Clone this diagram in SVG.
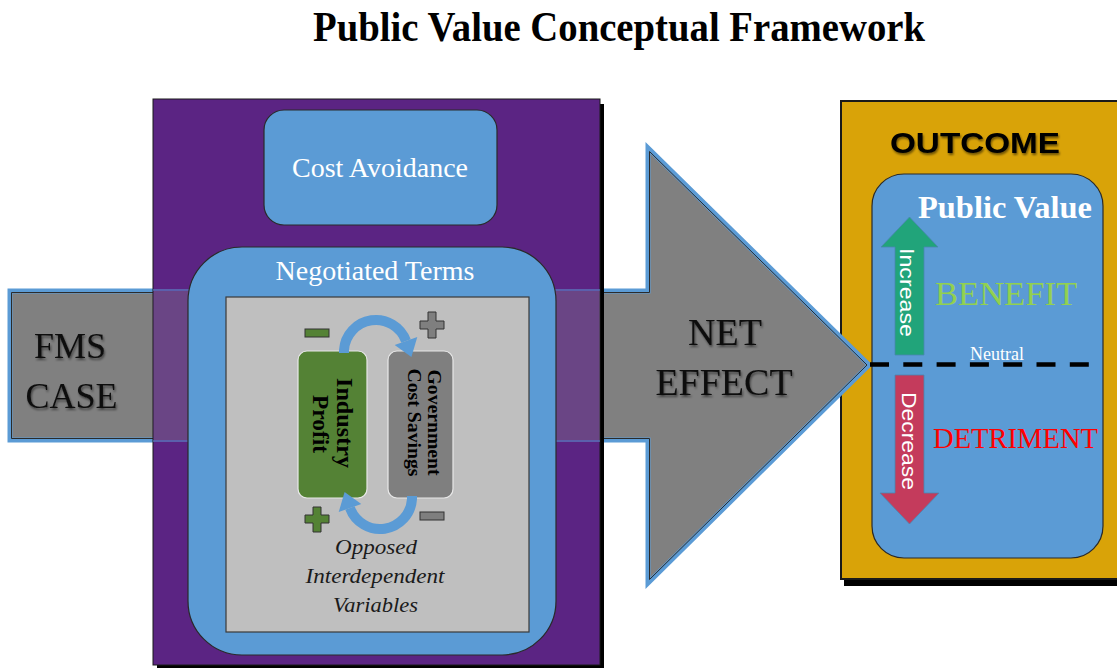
<svg xmlns="http://www.w3.org/2000/svg" width="1117" height="669" viewBox="0 0 1117 669">
<defs>
<style>
.serif{font-family:"Liberation Serif","Times New Roman",serif}
.sans{font-family:"Liberation Sans",Arial,sans-serif}
.blue{fill:#5b9bd5;stroke:#2a2a2a;stroke-width:1.2}
.wt{fill:#ffffff}
.sign-g{fill:#548235;stroke:#333;stroke-width:1}
.sign-k{fill:#7f7f7f;stroke:#333;stroke-width:1}
.arc{fill:none;stroke:#5b9bd5;stroke-width:10}
</style>
<filter id="ts" x="-10%" y="-20%" width="120%" height="140%">
<feGaussianBlur in="SourceAlpha" stdDeviation="1.2"/>
<feOffset dx="1" dy="1.5" result="b"/>
<feComponentTransfer><feFuncA type="linear" slope="0.5"/></feComponentTransfer>
<feMerge><feMergeNode/><feMergeNode in="SourceGraphic"/></feMerge>
</filter>
<g id="curl">
<path class="arc" d="M 344 353 L 344 350 A 32 32 0 0 1 406 341"/>
<polygon points="417.3,336.9 394.7,345.1 411.4,357" fill="#5b9bd5"/>
</g>
</defs>
<rect width="1117" height="669" fill="#ffffff"/>

<g id="title">
<text class="serif" x="619" y="41" font-size="42" font-weight="bold" text-anchor="middle" textLength="612" lengthAdjust="spacingAndGlyphs" fill="#000">Public Value Conceptual Framework</text>
</g>

<g id="outcome">
<rect x="844" y="106" width="280" height="480" fill="#000"/>
<rect x="841" y="101" width="280" height="478" fill="#d9a308" stroke="#1a1a1a" stroke-width="2"/>
<text class="sans" x="975" y="153" font-size="30" font-weight="bold" text-anchor="middle" textLength="170" lengthAdjust="spacingAndGlyphs" fill="#000" filter="url(#ts)">OUTCOME</text>
</g>

<g id="connectors">
<g id="net-effect-arrow">
<path d="M 10 291 L 648 291 L 648 148 L 869 365 L 648 583 L 648 440 L 10 440 Z" fill="#808080" stroke="#5b9bd5" stroke-width="5" stroke-linejoin="miter"/>
<path d="M 11.5 292.5 L 649.5 292.5 L 649.5 151.5 L 867 365 L 649.5 579.5 L 649.5 438.5 L 11.5 438.5 Z" fill="none" stroke="#2b2b2b" stroke-width="1"/>
</g>
</g>

<g id="purple-box">
<rect x="157" y="104" width="447" height="564" fill="#000"/>
<rect x="153" y="99" width="447" height="566" fill="#5b2483" stroke="#1a1a1a" stroke-width="1"/>
<rect x="153.5" y="291" width="446.5" height="149" fill="#8a8a8a" opacity="0.33"/>
<line x1="153" y1="290" x2="600" y2="290" stroke="#5b9bd5" stroke-width="2" opacity="0.5"/>
<line x1="153" y1="441" x2="600" y2="441" stroke="#5b9bd5" stroke-width="2" opacity="0.5"/>
</g>

<g id="cost-avoidance">
<rect class="blue" x="264" y="110" width="233" height="115" rx="20"/>
<text class="serif wt" x="380" y="177" font-size="28" text-anchor="middle">Cost Avoidance</text>
</g>

<g id="negotiated-terms">
<rect class="blue" x="188" y="247" width="368" height="408" rx="54"/>
<text class="serif wt" x="375" y="280" font-size="28" text-anchor="middle">Negotiated Terms</text>
<rect x="226" y="297" width="303" height="335" fill="#bfbfbf" stroke="#3a3a3a" stroke-width="1.2"/>
</g>

<g id="industry-profit">
<rect x="298" y="351" width="69" height="147" rx="9" fill="#548235" stroke="#e8e8e8" stroke-width="1.2"/>
<text class="serif" transform="translate(337,423) rotate(90)" font-size="23" font-weight="bold" text-anchor="middle" fill="#000" textLength="90" lengthAdjust="spacingAndGlyphs">Industry</text>
<text class="serif" transform="translate(313,424) rotate(90)" font-size="23" font-weight="bold" text-anchor="middle" fill="#000" textLength="58" lengthAdjust="spacingAndGlyphs">Profit</text>
</g>

<g id="government-cost-savings">
<rect x="388" y="351" width="65" height="147" rx="9" fill="#7f7f7f" stroke="#e8e8e8" stroke-width="1.2"/>
<text class="serif" transform="translate(428,422.5) rotate(90)" font-size="19" font-weight="bold" text-anchor="middle" fill="#000" textLength="106" lengthAdjust="spacingAndGlyphs">Government</text>
<text class="serif" transform="translate(408,422.5) rotate(90)" font-size="19" font-weight="bold" text-anchor="middle" fill="#000" textLength="108" lengthAdjust="spacingAndGlyphs">Cost Savings</text>
</g>

<g id="feedback-arrows">
<use href="#curl"/>
<use href="#curl" transform="rotate(180 378 424.5)"/>
</g>

<g id="signs">
<rect class="sign-g" x="305" y="329" width="24" height="8"/>
<path class="sign-k" d="M428 312 H436 V321 H444 V329 H436 V338 H428 V329 H420 V321 H428 Z"/>
<path class="sign-g" d="M313 507 H321 V515 H329 V523 H321 V532 H313 V523 H305 V515 H313 Z"/>
<rect class="sign-k" x="420" y="512" width="24" height="8"/>
</g>

<g id="opposed-label">
<text class="serif" x="376" y="554" font-size="22" font-style="italic" text-anchor="middle" fill="#1a1a1a" textLength="82" lengthAdjust="spacingAndGlyphs">Opposed</text>
<text class="serif" x="375" y="583" font-size="22" font-style="italic" text-anchor="middle" fill="#1a1a1a" textLength="139" lengthAdjust="spacingAndGlyphs">Interdependent</text>
<text class="serif" x="375.5" y="612" font-size="22" font-style="italic" text-anchor="middle" fill="#1a1a1a" textLength="85" lengthAdjust="spacingAndGlyphs">Variables</text>
</g>

<g id="public-value">
<rect class="blue" x="872" y="174" width="231" height="384" rx="32"/>
<text class="serif wt" x="1005" y="218" font-size="31" font-weight="bold" text-anchor="middle" textLength="174" lengthAdjust="spacingAndGlyphs">Public Value</text>
<polygon points="895,355 924,355 924,247 938,247 909.5,217 881,247 895,247" fill="#21a47a" stroke="#4a86b0" stroke-width="0.8"/>
<text class="sans wt" transform="translate(900,292.5) rotate(90)" font-size="20" text-anchor="middle" textLength="89" lengthAdjust="spacingAndGlyphs">Increase</text>
<polygon points="895,375 924,375 924,493 939,493 909.5,524 880,493 895,493" fill="#c43b5c" stroke="#4a86b0" stroke-width="0.8"/>
<text class="sans wt" transform="translate(902,441) rotate(90)" font-size="20" text-anchor="middle" textLength="98" lengthAdjust="spacingAndGlyphs">Decrease</text>
<text class="serif" x="1006" y="305" font-size="34" text-anchor="middle" fill="#92d050" textLength="142" lengthAdjust="spacingAndGlyphs">BENEFIT</text>
<text class="serif" x="1015.5" y="448" font-size="29" text-anchor="middle" fill="#ff0000" textLength="165" lengthAdjust="spacingAndGlyphs">DETRIMENT</text>
<line x1="870" y1="364.5" x2="1095" y2="364.5" stroke="#000" stroke-width="4.5" stroke-dasharray="19 14.3"/>
<text class="serif wt" x="997" y="360" font-size="18" text-anchor="middle" textLength="54" lengthAdjust="spacingAndGlyphs">Neutral</text>
</g>

<g id="arrow-labels">
<text class="serif" x="70" y="358" font-size="36" text-anchor="middle" fill="#111" filter="url(#ts)">FMS</text>
<text class="serif" x="71.5" y="408" font-size="36" text-anchor="middle" fill="#111" filter="url(#ts)">CASE</text>
<text class="serif" x="725" y="345" font-size="38" text-anchor="middle" fill="#111" filter="url(#ts)">NET</text>
<text class="serif" x="724" y="395" font-size="38" text-anchor="middle" fill="#111" filter="url(#ts)">EFFECT</text>
</g>
</svg>
